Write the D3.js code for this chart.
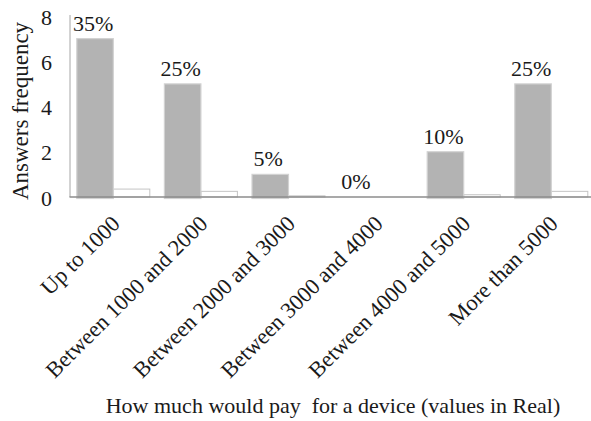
<!DOCTYPE html>
<html>
<head>
<meta charset="utf-8">
<script src="https://cdnjs.cloudflare.com/ajax/libs/d3/7.8.5/d3.min.js"></script>
<style>
  html, body { margin: 0; padding: 0; background: #ffffff; }
  svg { display: block; }
  text { font-family: "Liberation Serif", "Times New Roman", serif; fill: #1a1a1a; }
</style>
</head>
<body>
<svg id="chart" width="591" height="421"></svg>
<script>
// ---- data ----
const categories = ["Up to 1000", "Between 1000 and 2000", "Between 2000 and 3000",
                    "Between 3000 and 4000", "Between 4000 and 5000", "More than 5000"];
const frequency = [7, 5, 1, 0, 2, 5];
const share = [0.35, 0.25, 0.05, 0, 0.10, 0.25];
const percentLabels = ["35%", "25%", "5%", "0%", "10%", "25%"];
const yTicks = [0, 2, 4, 6, 8];
const xTitle = "How much would pay  for a device (values in Real)";
const yTitle = "Answers frequency";

// ---- layout ----
const W = 591, H = 421;
const left = 69.5, baseY = 197, topY = 16;
const step = 87.6;

const svg = d3.select("#chart");

const x = d3.scaleBand().domain(categories).range([left, left + step * categories.length]).padding(0);
const inner = d3.scaleBand().domain(["frequency", "share"]).range([0, x.bandwidth()])
  .paddingInner(0).paddingOuter(0.2);
const y = d3.scaleLinear().domain([0, 8]).range([baseY, topY]);

const rows = categories.map((c, i) => ({ c, f: frequency[i], s: share[i], label: percentLabels[i] }));

// white (share) bars
svg.append("g").selectAll("rect").data(rows).join("rect")
  .attr("x", d => x(d.c) + inner("share"))
  .attr("width", inner.bandwidth())
  .attr("y", d => y(d.s))
  .attr("height", d => Math.max(0, y(0) - y(d.s)))
  .attr("fill", "#ffffff")
  .attr("stroke", "#c4c4c4")
  .attr("stroke-width", 1);

// gray (frequency) bars
svg.append("g").selectAll("rect").data(rows.filter(d => d.f > 0)).join("rect")
  .attr("x", d => x(d.c) + inner("frequency"))
  .attr("width", inner.bandwidth())
  .attr("y", d => y(d.f))
  .attr("height", d => y(0) - y(d.f) + 1.5)
  .attr("fill", "#b3b3b3")
  .attr("stroke", "#d2d2d2")
  .attr("stroke-width", 1.2);

// axes lines
svg.append("line").attr("x1", left + 0.5).attr("x2", left + 0.5).attr("y1", 15).attr("y2", baseY)
  .attr("stroke", "#a6a6a6").attr("stroke-width", 1);
svg.append("line").attr("x1", left).attr("x2", W).attr("y1", baseY).attr("y2", baseY)
  .attr("stroke", "#8c8c8c").attr("stroke-width", 1.5);

// y tick labels
svg.append("g").selectAll("text").data(yTicks).join("text")
  .attr("x", 52).attr("y", d => y(d) + 1)
  .attr("dy", "0.35em")
  .attr("text-anchor", "end")
  .style("font-size", "22px")
  .text(d => d);

// percent labels
svg.append("g").selectAll("text").data(rows).join("text")
  .attr("x", d => x(d.c) + inner("frequency") + inner.bandwidth() / 2 - 2)
  .attr("y", d => y(d.f) - 8)
  .attr("text-anchor", "middle")
  .style("font-size", "22px")
  .text(d => d.label);

// category labels rotated
svg.append("g").selectAll("text").data(categories).join("text")
  .attr("transform", d => `translate(${x(d) + x.bandwidth() / 2 + 8},${baseY + 28}) rotate(-45)`)
  .attr("text-anchor", "end")
  .style("font-size", "22.5px")
  .text(d => d);

// axis titles
svg.append("text")
  .attr("x", 333).attr("y", 413)
  .attr("text-anchor", "middle")
  .style("font-size", "22px")
  .style("white-space", "pre")
  .text(xTitle);

svg.append("text")
  .attr("transform", "translate(28,111) rotate(-90)")
  .attr("text-anchor", "middle")
  .style("font-size", "23px")
  .text(yTitle);
</script>
</body>
</html>
